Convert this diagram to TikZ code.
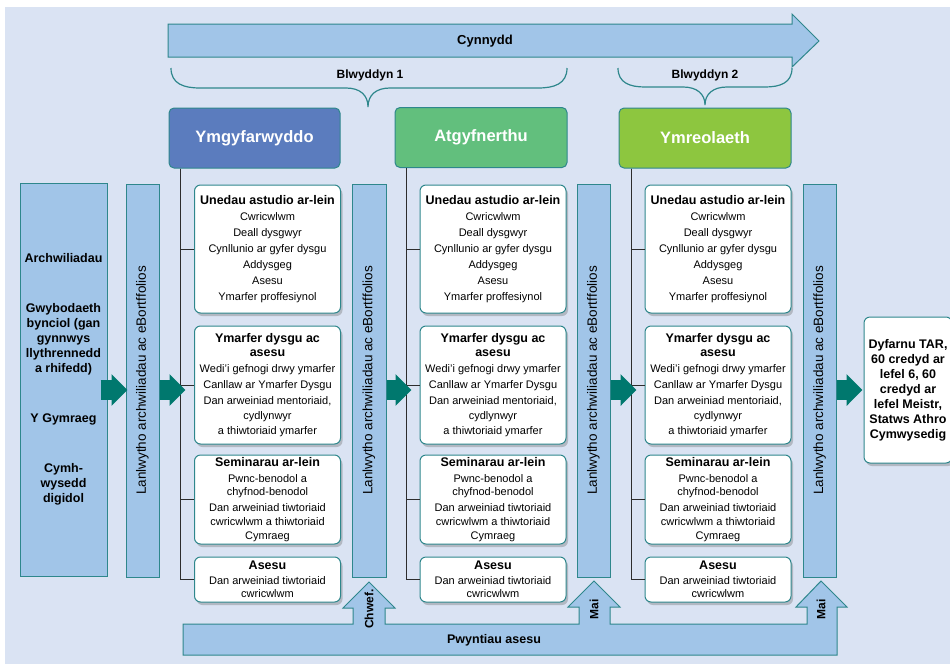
\documentclass[tikz,border=0pt]{standalone}
\usepackage{fontspec}
\setmainfont{Liberation Sans}
\usetikzlibrary{arrows.meta,calc}
\definecolor{bgc}{RGB}{218,227,243}
\definecolor{barc}{RGB}{161,197,232}
\definecolor{tealb}{RGB}{46,135,140}
\definecolor{arrc}{RGB}{0,120,110}
\definecolor{hone}{RGB}{91,124,190}
\definecolor{htwo}{RGB}{98,191,125}
\definecolor{hthree}{RGB}{141,198,63}
\definecolor{treec}{RGB}{45,45,45}
\definecolor{shadowc}{RGB}{178,184,194}
\newcommand{\tit}[1]{{\fontsize{12.5}{15}\selectfont\bfseries #1}}
\begin{document}
\begin{tikzpicture}[x=1pt,y=-1pt,
  bar/.style={draw=tealb, line width=1pt, fill=barc, inner sep=0pt},
  hdr/.style={draw=tealb, line width=1pt, rounded corners=5pt, text=white,
    font=\fontsize{16.5}{20}\selectfont\bfseries, inner sep=0pt, minimum height=60pt},
  cbox/.style={draw=tealb, line width=1pt, fill=white, rounded corners=6pt,
    align=center, inner sep=0pt, minimum width=146pt,
    font=\fontsize{11}{14}\selectfont,
    preaction={fill=shadowc, transform canvas={shift={(2pt,-3pt)}}}},
  bartext/.style={rotate=90, font=\fontsize{13.5}{16}\selectfont},
  btext/.style={font=\fontsize{12.5}{15}\selectfont\bfseries},
  tree/.style={draw=treec, line width=0.9pt},
  blk/.style={draw=arrc, line width=20pt, -{Triangle[width=31pt,length=16pt]}},
  bandbody/.style={draw=tealb, line width=1pt, fill=barc},
  bracec/.style={draw=tealb, line width=1.2pt}
]
\useasboundingbox (0,0) rectangle (950,664);
\clip (0,0) rectangle (950,664);
\fill[white] (0,0) rectangle (950,664);
\fill[bgc] (4.5,7) rectangle (950,664);

% top progress arrow
\path[bandbody] (168,24) -- (792,24) -- (792,14) -- (819,41) -- (792,67) -- (792,57) -- (168,57) -- cycle;
\node[btext, font=\fontsize{13}{15}\selectfont\bfseries] (cyn) at (485,41) {Cynnydd};

% braces
\path[bracec] (171,68) .. controls (171,84) and (184,88) .. (200,88) -- (346,88)
  .. controls (360,88) and (368,95) .. (368,107)
  .. controls (368,95) and (376,88) .. (390,88) -- (538,88)
  .. controls (554,88) and (567,84) .. (567,68);
\node[btext, font=\fontsize{12}{14}\selectfont\bfseries] (y1) at (370,75) {Blwyddyn 1};
\path[bracec] (618,68) .. controls (618,83) and (630,87) .. (645,87) -- (683,87)
  .. controls (697,87) and (705,94) .. (705,105)
  .. controls (705,94) and (713,87) .. (727,87) -- (765,87)
  .. controls (780,87) and (792,83) .. (792,68);
\node[btext, font=\fontsize{12}{14}\selectfont\bfseries] (y2) at (705,75) {Blwyddyn 2};

% headers
\node[hdr, fill=hone, minimum width=171pt] (H1) at (254.5,138) {Ymgyfarwyddo};
\node[hdr, fill=htwo, minimum width=172pt] (H2) at (481,137.5) {Atgyfnerthu};
\node[hdr, fill=hthree, minimum width=172pt] (H3) at (705,138) {Ymreolaeth};

% left box and bars
\node[bar, minimum width=87pt, minimum height=393pt, align=center,
  font=\fontsize{12.5}{15}\selectfont\bfseries] (L) at (63.5,379.5)
  {Archwiliadau\\[35pt] Gwybodaeth\\ bynciol (gan\\ gynnwys\\ llythrennedd\\ a rhifedd)\\[35pt] Y Gymraeg\\[35pt] Cymh-\\ wysedd\\ digidol};
\node[bar, minimum width=33pt, minimum height=393pt] (B1) at (142.5,380.5) {};
\node[bar, minimum width=34pt, minimum height=393pt] (B2) at (369,380.5) {};
\node[bar, minimum width=33pt, minimum height=393pt] (B3) at (593.5,380.5) {};
\node[bar, minimum width=33pt, minimum height=393pt] (B4) at (819.5,380.5) {};
\foreach \b in {B1,B2,B3,B4}
  \node[bartext] (\b t) at (\b.center) {Lanlwytho archwiliadau ac eBortffolios};

% content boxes
\foreach \c/\x in {1/267.5,2/493,3/718}{
  \node[cbox, minimum height=128pt] (C\c a) at (\x,249)
    {\tit{Unedau astudio ar-lein}\\[2pt] Cwricwlwm\\[2pt] Deall dysgwyr\\[2pt] Cynllunio ar gyfer dysgu\\[2pt] Addysgeg\\[2pt] Asesu\\[2pt] Ymarfer proffesiynol};
  \node[cbox, minimum height=118pt] (C\c b) at (\x,385)
    {\tit{Ymarfer dysgu ac}\\[0pt] \tit{asesu}\\[2pt] Wedi’i gefnogi drwy ymarfer\\[2pt] Canllaw ar Ymarfer Dysgu\\[2pt] Dan arweiniad mentoriaid,\\[1pt] cydlynwyr\\[1pt] a thiwtoriaid ymarfer};
  \node[cbox, minimum height=89pt] (C\c c) at (\x,499.5)
    {\tit{Seminarau ar-lein}\\[2pt] Pwnc-benodol a\\[-1pt] chyfnod-benodol\\[2pt] Dan arweiniad tiwtoriaid\\ cwricwlwm a thiwtoriaid\\ Cymraeg};
  \node[cbox, minimum height=45pt] (C\c d) at (\x,579.5)
    {\tit{Asesu}\\[1pt] Dan arweiniad tiwtoriaid\\[-1pt] cwricwlwm};
}

% tree lines
\foreach \h/\c/\o in {H1/1/12,H2/2/12,H3/3/13}{
  \foreach \k in {a,b,c,d}
    \draw[tree] ([xshift=\o pt]\h.south west) |- (C\c\k.west);
}

% right box
\node[cbox, minimum width=88pt, minimum height=146pt,
  font=\fontsize{12.5}{15}\selectfont\bfseries] (R) at (908,390)
  {Dyfarnu TAR,\\ 60 credyd ar\\ lefel 6, 60\\ credyd ar\\ lefel Meistr,\\ Statws Athro\\ Cymwysedig};

% block arrows
\coordinate (ay) at (0,390);
\draw[blk] ([xshift=-7pt]L.east |- ay) -- ([xshift=2pt]B1.west |- ay);
\draw[blk] (B1.east |- ay) -- ([xshift=17pt]H1.south west |- ay);
\draw[blk] (B2.east |- ay) -- ([xshift=17pt]H2.south west |- ay);
\draw[blk] (B3.east |- ay) -- ([xshift=18pt]H3.south west |- ay);
\draw[blk] (B4.east |- ay) -- ([xshift=-1pt]R.west |- ay);

% bottom assessment band
\path[bandbody] (183,624) -- (353,624) -- (353,608) -- (343,608) -- (369,582) -- (395,608) -- (385,608) -- (385,624)
  -- (579,624) -- (579,607) -- (568,607) -- (594,581) -- (620,607) -- (610,607) -- (610,624)
  -- (807,624) -- (807,607) -- (796,607) -- (821,581) -- (847,607) -- (837,607) -- (837,655)
  -- (183,655) -- cycle;
\node[btext] (pw) at (494,640) {Pwyntiau asesu};
\node[btext, rotate=90, font=\fontsize{12}{14}\selectfont\bfseries] (chw) at (369,609) {Chwef.};
\node[btext, rotate=90, font=\fontsize{12}{14}\selectfont\bfseries] (mai1) at (594,609) {Mai};
\node[btext, rotate=90, font=\fontsize{12}{14}\selectfont\bfseries] (mai2) at (821,609) {Mai};
\end{tikzpicture}
\end{document}
